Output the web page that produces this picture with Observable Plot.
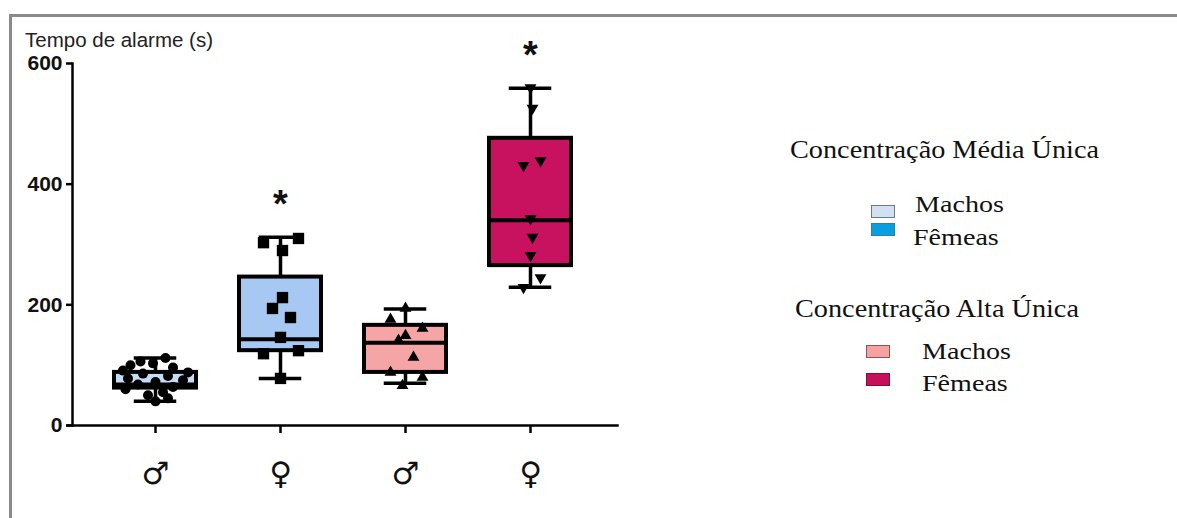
<!DOCTYPE html>
<html>
<head>
<meta charset="utf-8">
<script src="https://cdn.jsdelivr.net/npm/d3@7"></script>
<script src="https://cdn.jsdelivr.net/npm/@observablehq/plot@0.6"></script>
<style>
  html, body { margin: 0; padding: 0; background: #fff; }
  #wrap { position: relative; width: 1177px; height: 518px; overflow: hidden; background: #fff; }
  #border { position: absolute; left: 9px; top: 14px; width: 1300px; height: 600px; border-left: 3px solid #8a8a8a; border-top: 3px solid #8a8a8a; }
  #chart { position: absolute; left: 0; top: 0; }
  #ytitle { position: absolute; left: 25px; top: 28px; font: 20.5px "Liberation Sans", Arial, sans-serif; color: #222; white-space: nowrap; }
  .lg { position: absolute; font-family: "Liberation Serif", "Times New Roman", serif; color: #111; white-space: nowrap; transform-origin: left center; }
  .lg.t { font-size: 25px; transform: scaleX(1.13); }
  .lg.i { font-size: 24px; transform: scaleX(1.17); }
  .sw { position: absolute; width: 22px; height: 11px; border: 1px solid #777; }
</style>
</head>
<body>
<div id="wrap">
  <div id="border"></div>
  <div id="chart"></div>
  <div id="ytitle">Tempo de alarme (s)</div>
  <div class="lg t" style="left:790px; top:136px;">Concentração Média Única</div>
  <div class="sw" style="left:871px; top:205px; background:#d0e1f5;"></div>
  <div class="lg i" style="left:915px; top:191px;">Machos</div>
  <div class="sw" style="left:871px; top:223px; background:#0a9de0; border-color:#2a7fb0;"></div>
  <div class="lg i" style="left:913px; top:224px;">Fêmeas</div>
  <div class="lg t" style="left:795px; top:295px;">Concentração Alta Única</div>
  <div class="sw" style="left:866px; top:345px; background:#f6a2a2; border-color:#8a5555;"></div>
  <div class="lg i" style="left:922px; top:338px;">Machos</div>
  <div class="sw" style="left:866px; top:373px; background:#c80f5a; border-color:#7a1040;"></div>
  <div class="lg i" style="left:922px; top:370px;">Fêmeas</div>
</div>
<script>
// ---- data ----
const categories = ["Machos – Média", "Fêmeas – Média", "Machos – Alta", "Fêmeas – Alta"];
const tickLabels = ["♂", "♀", "♂", "♀"];
const whiskerMin = [40, 78, 70, 229];
const quart1 = [62, 124, 88, 265];
const medians = [68, 143, 137, 340];
const quart3 = [88, 246, 166, 476];
const whiskerMax = [112, 312, 193, 559];
const significant = [false, true, false, true];

const values1 = [112, 106, 103, 100, 96, 91, 88, 86, 82, 78, 75, 72, 68, 64, 60, 55, 50, 45, 40];
const jitter1 = [0.08, -0.12, -0.02, -0.2, 0.14, -0.26, 0.26, -0.1, 0.1, -0.22, 0.22, 0, -0.14, 0.14, -0.24, 0.06, -0.06, 0.1, 0];
const values2 = [310, 303, 290, 212, 194, 179, 146, 124, 119, 78];
const jitter2 = [0.144, -0.136, 0.016, 0.016, -0.064, 0.08, 0, 0.144, -0.136, 0];
const values3 = [194, 176, 161, 149, 141, 113, 88, 80, 66];
const jitter3 = [0, -0.12, 0.136, 0, -0.056, 0.064, -0.12, 0.136, -0.024];
const values4 = [560, 526, 439, 431, 343, 312, 282, 245, 229];
const jitter4 = [0, 0.016, 0.08, -0.056, 0, 0.016, 0, 0.08, -0.056];
const yTicks = [0, 200, 400, 600];

// ---- styling ----
const boxColors = ["#c6dcf4", "#a7c8f2", "#f5a5a5", "#c8125f"];
const BOX_HALF = 0.328, CAP_HALF = 0.17;

const boxes = categories.map((c, i) => ({
  cat: c, pos: i + 1, min: whiskerMin[i], q1: quart1[i], med: medians[i],
  q3: quart3[i], max: whiskerMax[i], sig: significant[i]
}));

const groups = [[values1, jitter1], [values2, jitter2], [values3, jitter3], [values4, jitter4]];
const points = groups.flatMap(([vals, jit], i) => vals.map((v, j) => ({cat: categories[i], pos: i + 1 + jit[j], v})));

const triangleDown = {
  draw(ctx, size) {
    const a = Math.sqrt(size / (Math.sqrt(3) / 4));
    const h = a * Math.sqrt(3) / 2;
    ctx.moveTo(-a / 2, -h / 3);
    ctx.lineTo(a / 2, -h / 3);
    ctx.lineTo(0, 2 * h / 3);
    ctx.closePath();
  }
};
const symbolFor = ["circle", "square", "triangle", triangleDown];
const rFor = [5, 6.4, 4.4, 4.4];

const dotMarks = categories.map((c, i) => Plot.dot(points.filter(p => p.cat === c), {
  x: "pos", y: "v", symbol: () => symbolFor[i], r: rFor[i], fill: "#000", stroke: "none"
}));

const chart = Plot.plot({
  width: 1177,
  height: 518,
  marginLeft: 72,
  marginRight: 560,
  marginTop: 63,
  marginBottom: 93,
  style: {fontFamily: "'Liberation Sans', Arial, sans-serif", background: "transparent", overflow: "visible"},
  x: {type: "linear", domain: [0.336, 4.696]},
  y: {domain: [0, 600]},
  color: {domain: categories, range: boxColors},
  symbol: {type: "identity"},
  marks: [
    Plot.axisY({ticks: yTicks, tickSize: 6, tickPadding: 4, strokeWidth: 2.5, fontSize: 21, fontWeight: "bold", fill: "#111", label: null}),
    Plot.axisX({ticks: [1, 2, 3, 4], tickFormat: d => tickLabels[d - 1], tickSize: 8, tickPadding: 28, strokeWidth: 2.5, fontSize: 31, fontFamily: "'DejaVu Sans', sans-serif", fill: "#111", label: null}),
    Plot.frame({anchor: "left", strokeWidth: 2.5}),
    Plot.frame({anchor: "bottom", strokeWidth: 2.5, insetLeft: -5}),
    Plot.ruleX(boxes, {x: "pos", y1: "q3", y2: "max", strokeWidth: 3.5}),
    Plot.ruleX(boxes, {x: "pos", y1: "min", y2: "q1", strokeWidth: 3.5}),
    Plot.rect(boxes, {x1: d => d.pos - BOX_HALF, x2: d => d.pos + BOX_HALF, y1: "q1", y2: "q3", fill: "cat", stroke: "#000", strokeWidth: 4}),
    Plot.ruleY(boxes, {y: "med", x1: d => d.pos - BOX_HALF, x2: d => d.pos + BOX_HALF, strokeWidth: 4}),
    Plot.ruleY(boxes, {y: "max", x1: d => d.pos - CAP_HALF, x2: d => d.pos + CAP_HALF, strokeWidth: 3.5}),
    Plot.ruleY(boxes, {y: "min", x1: d => d.pos - CAP_HALF, x2: d => d.pos + CAP_HALF, strokeWidth: 3.5}),
    ...dotMarks,
    Plot.text(boxes.filter(d => d.sig), {x: "pos", y: "max", text: () => "*", dy: -32, fontSize: 38, fontWeight: "bold", fill: "#111"})
  ]
});
document.getElementById("chart").appendChild(chart);
</script>
</body>
</html>
